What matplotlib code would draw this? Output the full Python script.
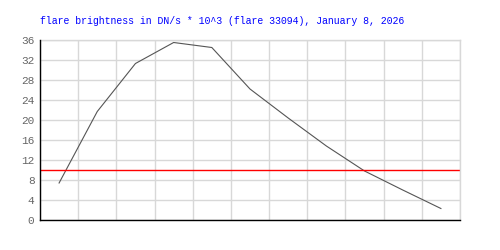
import matplotlib.pyplot as plt
import numpy as np

# flare brightness values, one per interval
brightness = [7.4, 21.7, 31.3, 35.5, 34.5, 26.2, 20.4, 14.8, 9.8, 6.0, 2.3]
threshold = 10
y_ticks = [0, 4, 8, 12, 16, 20, 24, 28, 32, 36]
title = 'flare brightness in DN/s * 10^3 (flare 33094), January 8, 2026'

x = np.arange(len(brightness)) + 0.5

plt.rcParams['font.family'] = ['Liberation Mono', 'DejaVu Sans Mono']
fig = plt.figure(figsize=(5, 2.5), dpi=100)
ax = fig.add_axes([0.08, 0.12, 0.84, 0.72])

ax.plot(x, brightness, color='#555555', linewidth=0.8)
ax.axhline(threshold, color='red', linewidth=1)

ax.set_xlim(0, len(brightness))
ax.set_ylim(0, 36)
ax.set_xticks(np.arange(len(brightness) + 1))
ax.set_xticklabels([])
ax.set_yticks(y_ticks)
ax.set_yticklabels([str(t) for t in y_ticks], color='#666666', fontsize=8)
ax.tick_params(length=0, pad=4)
ax.grid(True, color='#d8d8d8', linewidth=1)
ax.set_axisbelow(True)

# black left/bottom borders, grid-colored top/right
ax.spines['left'].set_color('black')
ax.spines['bottom'].set_color('black')
ax.spines['top'].set_color('#d8d8d8')
ax.spines['right'].set_color('#d8d8d8')
for s in ax.spines.values():
    s.set_linewidth(1)
ax.spines['left'].set_zorder(3)
ax.spines['bottom'].set_zorder(3)

fig.text(0.08, 0.918, title, color='blue', fontsize=7.15, va='center', ha='left')

fig.savefig('out.png', dpi=100)
